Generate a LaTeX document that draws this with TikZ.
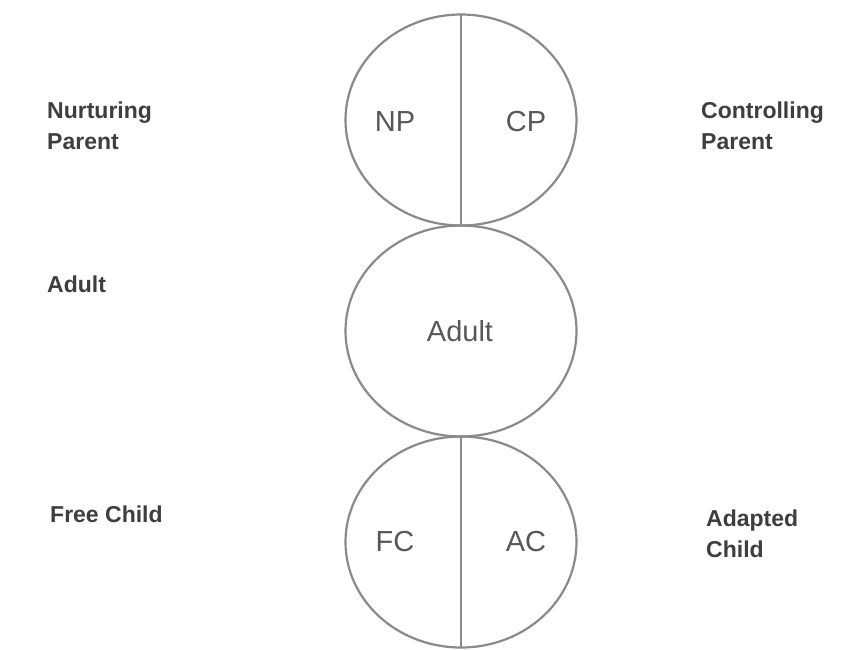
\documentclass[tikz,border=0pt]{standalone}
\usepackage{fontspec}
\setmainfont{Liberation Sans}
\usepackage{tikz}
\usetikzlibrary{shapes.geometric,positioning}
\definecolor{linegray}{RGB}{138, 138, 138}
\definecolor{labelgray}{RGB}{62, 62, 62}
\definecolor{innergray}{RGB}{88, 88, 88}
\tikzstyle{ego} = [ellipse, draw=linegray, line width=2.2pt, fill=none, outer sep=0pt, minimum width=231pt, minimum height=211pt]
\tikzstyle{innertext} = [draw=none, fill=none, inner sep=0pt, text=innergray, font=\fontsize{29}{33}\selectfont]
\tikzstyle{sidetext} = [draw=none, fill=none, inner sep=0pt, anchor=west, align=left, text=labelgray, font=\bfseries\fontsize{23}{31}\selectfont]
\tikzstyle{divider} = [draw=linegray, line width=2.2pt]

\begin{document}
\begin{tikzpicture}[x=1pt, y=-1pt]
\useasboundingbox[fill=white] (0,0) rectangle (846,649);

% ego states =============================
\node[ego] (parent) at (461,120) {};
\node[ego, below=0pt of parent] (adult) {};
\node[ego, below=0pt of adult] (child) {};

% dividers
\draw[divider] (parent.north) -- (parent.south);
\draw[divider] (child.north) -- (child.south);

% inner labels
\node[innertext] (NP) at ([xshift=-66pt, yshift=-2pt]parent.center) {NP};
\node[innertext] (CP) at ([xshift=65pt, yshift=-2pt]parent.center) {CP};
\node[innertext] (A) at ([xshift=-1pt]adult.center) {Adult};
\node[innertext] (FC) at ([xshift=-66pt]child.center) {FC};
\node[innertext] (AC) at ([xshift=65pt]child.center) {AC};

% side labels
\node[sidetext] (Nurturing) at (47,126) {Nurturing\\Parent};
\node[sidetext] (Controlling) at (701,126) {Controlling\\Parent};
\node[sidetext] (AdultSide) at (47,284) {Adult};
\node[sidetext] (Free) at (50,514) {Free Child};
\node[sidetext] (Adapted) at (706,534) {Adapted\\Child};

\end{tikzpicture}
\end{document}
